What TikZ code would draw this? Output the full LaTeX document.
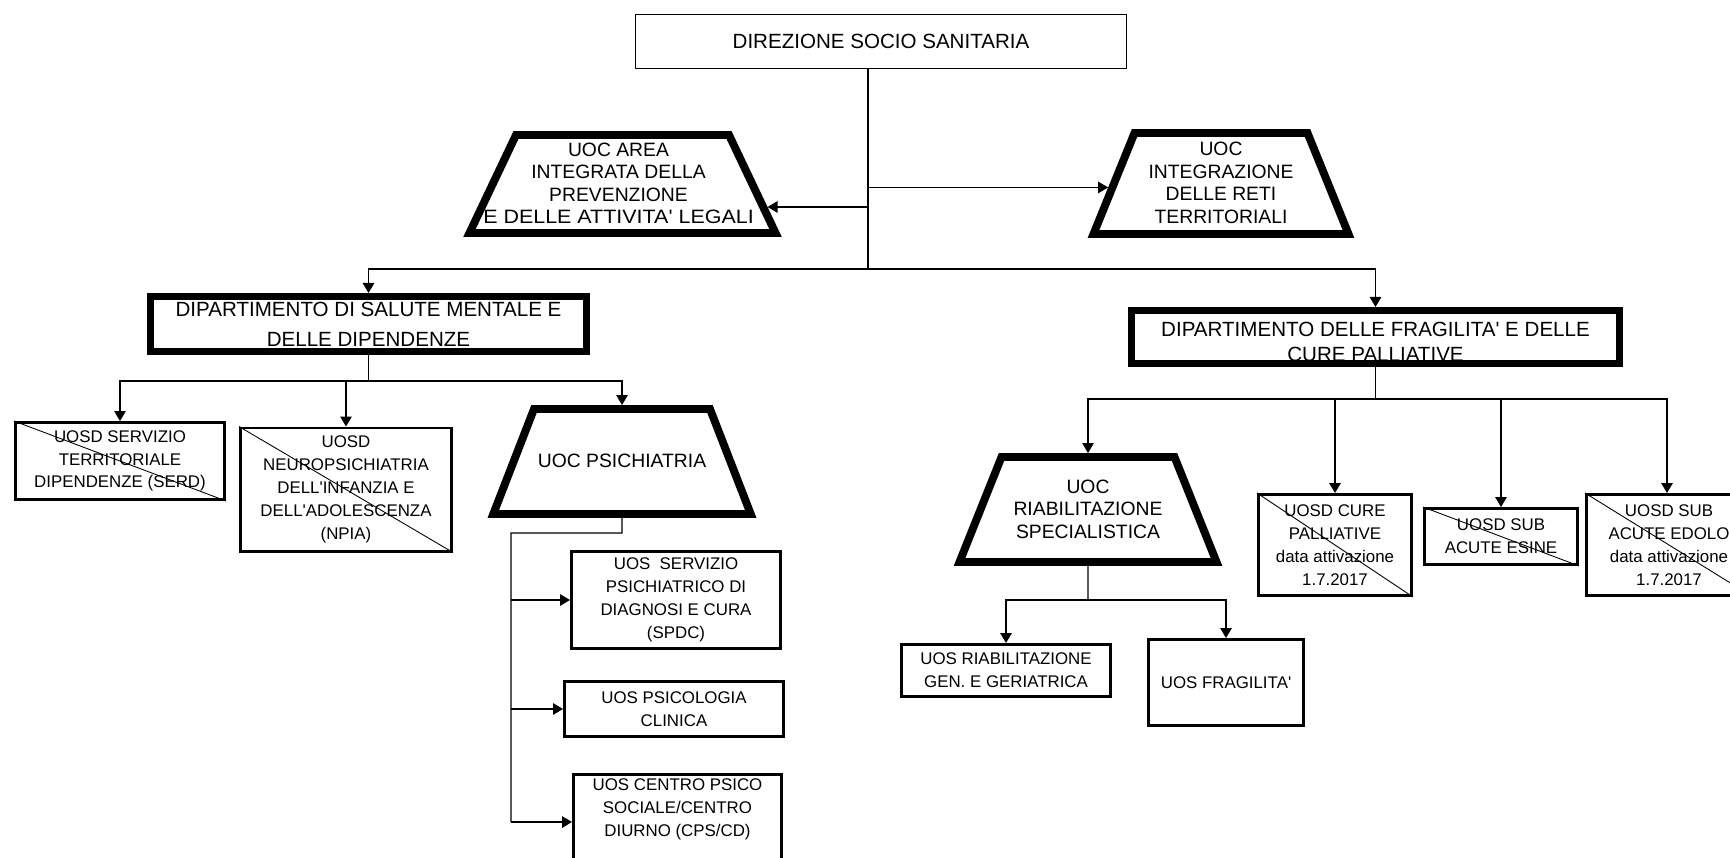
\documentclass[tikz,border=0pt]{standalone}
\usepackage{graphicx}
\usepackage{fontspec}
\setmainfont{Liberation Sans}
\usetikzlibrary{shapes.geometric, arrows.meta, positioning, calc}
\tikzset{
        headbox/.style={rectangle, draw, line width=0.5pt, inner sep=0pt, font=\fontsize{11.7}{14}\selectfont},
        deptbox/.style={rectangle, draw, line width=4pt, align=center, inner sep=0pt, font=\fontsize{11.7}{14.5}\selectfont},
        unitbox/.style={rectangle, draw, line width=1.7pt, align=center, inner sep=0pt, font=\fontsize{9.6}{13}\selectfont},
        uocshape/.style={trapezium, draw, line width=4.5pt, inner sep=0pt, font=\fontsize{11}{12.8}\selectfont},
        conn/.style={line width=0.8pt},
        arrow/.style={conn, -{Triangle[length=2mm, width=2.3mm]}},
        strike/.style={line width=0.5pt},
    }
\newcommand{\ap}{\textquotesingle}
% body of a trapezium: width #2, half height #3, text moved by half of #1
\newcommand{\uocbody}[4][0pt]{\raisebox{-1.3mm}[#3][#3]{\makebox[#2]{\hspace*{#1}\begin{tabular}{@{}c@{}}#4\end{tabular}}}}
% lines that take no height in a box, shifted by #1
\newcommand{\celltext}[2][0pt]{\raisebox{#1}[0.5pt][0.5pt]{\begin{tabular}{@{}c@{}}#2\end{tabular}}}

\begin{document}
\begin{tikzpicture}[x=0.2mm, y=-0.2mm]
        \useasboundingbox (0,0) rectangle (1730,857);
        \clip (0,0) rectangle (1730,857);

        % direction and staff units
        \node[headbox, minimum width=98.2mm, minimum height=10.8mm] (dss) at (881,41.5) {DIREZIONE SOCIO SANITARIA};
        \node[uocshape, trapezium angle=64.6] (area) at (622.5,184)
            {\uocbody[-1.6mm]{42.6mm}{9.8mm}{UOC AREA\\INTEGRATA DELLA\\PREVENZIONE\\\scalebox{1.11}[1]{E DELLE ATTIVITA\ap{} LEGALI}}};
        \node[uocshape, trapezium angle=67.9] (integ) at (1221,183.5)
            {\uocbody{34.6mm}{10.1mm}{UOC\\INTEGRAZIONE\\DELLE RETI\\TERRITORIALI}};

        % departments
        \node[deptbox, minimum width=87.2mm, minimum height=11mm, font=\fontsize{11.7}{17}\selectfont] (dsm) at (368.5,324)
            {DIPARTIMENTO DI SALUTE MENTALE E\\DELLE DIPENDENZE};
        \node[deptbox, minimum width=97.6mm, minimum height=10.6mm] (dfc) at (1375.5,337)
            {\celltext[-2.4mm]{DIPARTIMENTO DELLE FRAGILITA\ap{} E DELLE\\CURE PALLIATIVE}};

        % mental health
        \node[unitbox, minimum width=41.8mm, minimum height=15.4mm] (serd) at (120,461)
            {UOSD SERVIZIO\\TERRITORIALE\\DIPENDENZE (SERD)};
        \node[unitbox, minimum width=42.2mm, minimum height=24.6mm] (npia) at (346,489.5)
            {UOSD\\NEUROPSICHIATRIA\\DELL\ap{}INFANZIA E\\DELL\ap{}ADOLESCENZA\\(NPIA)};
        \node[uocshape, trapezium angle=68.8] (psy) at (622,461.5)
            {\uocbody{35.2mm}{10.5mm}{UOC PSICHIATRIA}};
        \node[unitbox, minimum width=41.8mm, minimum height=19.4mm] (spdc) at (676,600)
            {UOS~~SERVIZIO\\PSICHIATRICO DI\\DIAGNOSI E CURA\\(SPDC)};
        \node[unitbox, minimum width=43.8mm, minimum height=11mm] (psicol) at (674,709)
            {UOS PSICOLOGIA\\CLINICA};
        \node[unitbox, anchor=north, minimum width=41.6mm, minimum height=19.4mm] (cps) at (677.5,773)
            {\celltext[1.9mm]{UOS CENTRO PSICO\\SOCIALE/CENTRO\\DIURNO (CPS/CD)}};

        % frailty and palliative care
        \node[uocshape, trapezium angle=68.2] (riab) at (1088,509.5)
            {\uocbody{34.6mm}{10.5mm}{UOC\\RIABILITAZIONE\\SPECIALISTICA}};
        \node[unitbox, minimum width=41.8mm, minimum height=10.4mm] (riabg) at (1006,670.5)
            {UOS RIABILITAZIONE\\GEN. E GERIATRICA};
        \node[unitbox, minimum width=31mm, minimum height=17.2mm] (frag) at (1226,682.5)
            {UOS FRAGILITA\ap{}};
        \node[unitbox, minimum width=30.6mm, minimum height=20.2mm] (cure) at (1335,545)
            {UOSD CURE\\PALLIATIVE\\data attivazione\\1.7.2017};
        \node[unitbox, minimum width=30.6mm, minimum height=11.2mm] (esine) at (1501,536.5)
            {UOSD SUB\\ACUTE ESINE};
        \node[unitbox, minimum width=33mm, minimum height=20.2mm] (edolo) at (1669,545)
            {UOSD SUB\\ACUTE EDOLO\\data attivazione\\1.7.2017};

        % struck-out units
        \foreach \n in {serd, npia, cure, esine, edolo}
            \draw[strike] (\n.north west) -- (\n.south east);

        % connectors
        \coordinate (trunk) at (868,269);
        \draw[conn] (dss.south -| trunk) -- (trunk);
        \draw[arrow] (trunk |- area.-9) -- (area.-9);
        \draw[arrow] (trunk |- integ.182) -- (integ.182);
        \draw[arrow] (trunk) -| (dsm.north);
        \draw[arrow] (trunk) -| (dfc.north);

        \coordinate (dsmbus) at (368.5,381);
        \draw[conn] (dsm.south) -- (dsmbus);
        \foreach \n in {serd, npia, psy}
            \draw[arrow] (dsmbus) -| (\n.north);

        \coordinate (psyturn) at (622,533);
        \coordinate (psyleft) at (511,533);
        \coordinate (psyend) at (511,822);
        \draw[conn] (psy.south) -- (psyturn) -- (psyleft) -- (psyend);
        \draw[arrow] (psyleft |- spdc.west) -- (spdc.west);
        \draw[arrow] (psyleft |- psicol.west) -- (psicol.west);
        \draw[arrow] (psyend) -- (psyend -| cps.west);

        \coordinate (dfcbus) at (1375.5,399);
        \draw[conn] (dfc.south) -- (dfcbus);
        \foreach \n in {riab, cure, esine}
            \draw[arrow] (dfcbus) -| (\n.north);
        \draw[arrow] (dfcbus) -| ([xshift=-0.4mm]edolo.north);

        \coordinate (riabbus) at (1088,600);
        \draw[conn] (riab.south) -- (riabbus);
        \draw[arrow] (riabbus) -| (riabg.north);
        \draw[arrow] (riabbus) -| (frag.north);
    \end{tikzpicture}
\end{document}
